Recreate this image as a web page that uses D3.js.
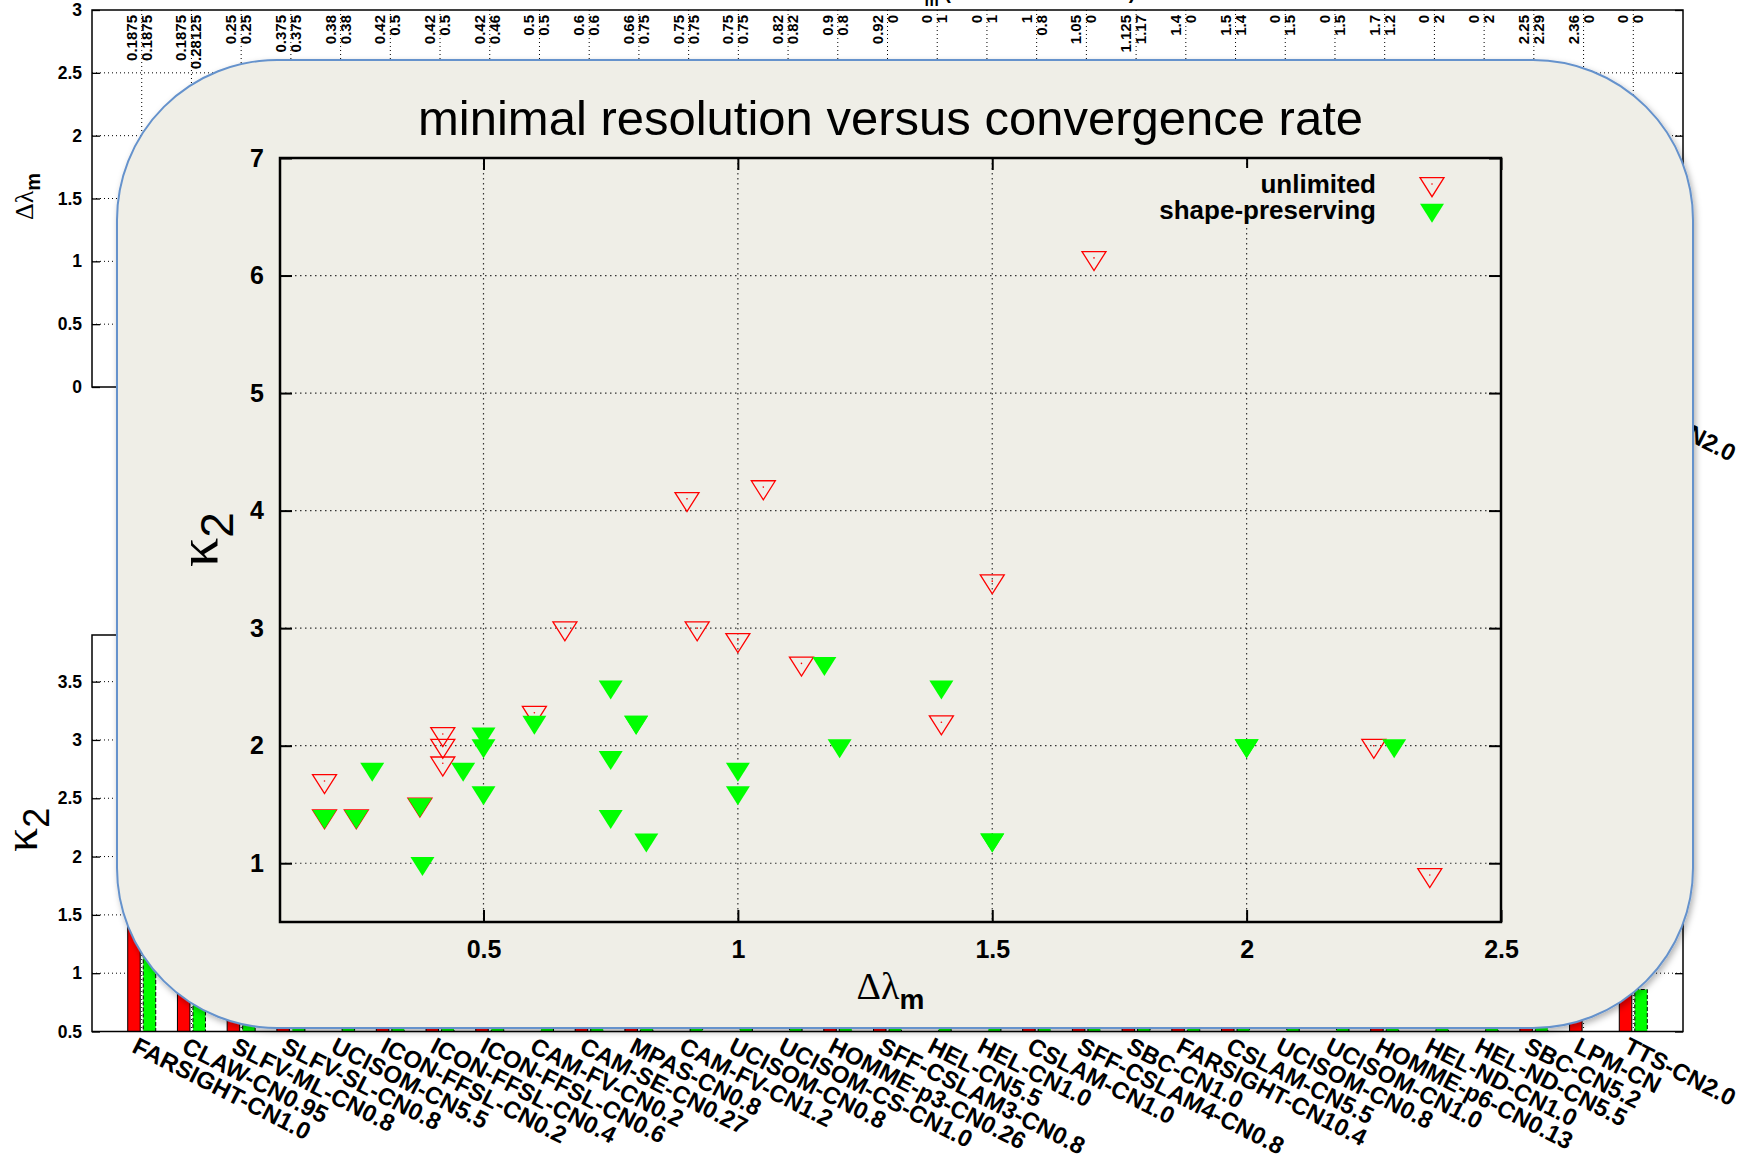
<!DOCTYPE html>
<html>
<head>
<meta charset="utf-8">
<script src="https://cdn.jsdelivr.net/npm/d3@7"></script>
<style>
  body { margin: 0; background: #ffffff; }
  svg { display: block; }
</style>
</head>
<body>
<svg id="chart" width="1754" height="1163"></svg>
<script>
// ---------------- data ----------------
const schemes = [
  "FARSIGHT-CN1.0", "CLAW-CN0.95", "SLFV-ML-CN0.8", "SLFV-SL-CN0.8", "UCISOM-CN5.5",
  "ICON-FFSL-CN0.2", "ICON-FFSL-CN0.4", "ICON-FFSL-CN0.6", "CAM-FV-CN0.2", "CAM-SE-CN0.27",
  "MPAS-CN0.8", "CAM-FV-CN1.2", "UCISOM-CN0.8", "UCISOM-CS-CN1.0", "HOMME-p3-CN0.26",
  "SFF-CSLAM3-CN0.8", "HEL-CN5.5", "HEL-CN1.0", "CSLAM-CN1.0", "SFF-CSLAM4-CN0.8",
  "SBC-CN1.0", "FARSIGHT-CN10.4", "CSLAM-CN5.5", "UCISOM-CN0.8", "UCISOM-CN1.0",
  "HOMME-p6-CN0.13", "HEL-ND-CN1.0", "HEL-ND-CN5.5", "SBC-CN5.2", "LPM-CN", "TTS-CN2.0"
];

// minimal resolution (Δλm), 0 = not available
const dlUnlimited = [
  0.1875, 0.1875, 0.25, 0.375, 0.38, 0.42, 0.42, 0.42, 0.5, 0.6,
  0.66, 0.75, 0.75, 0.82, 0.9, 0.92, 0, 0, 1, 1.05,
  1.125, 1.4, 1.5, 0, 0, 1.7, 0, 0, 2.25, 2.36, 0
];
const dlShapePreserving = [
  0.1875, 0.28125, 0.25, 0.375, 0.38, 0.5, 0.5, 0.46, 0.5, 0.6,
  0.75, 0.75, 0.75, 0.82, 0.8, 0, 1, 1, 0.8, 0,
  1.17, 0, 1.4, 1.5, 1.5, 1.2, 2, 2, 2.29, 0, 0
];

// convergence rate (κ2), null = not available
const k2Unlimited = [
  1.4, 1.7, 1.4, 1.5, null, 2.1, 2.0, 1.85, null, 2.28,
  3.0, null, null, null, 4.1, 3.0, null, null, 2.9, 4.2,
  2.7, 2.2, 3.4, null, null, 6.15, null, null, 2.0, 0.9, 1.1
];
const k2ShapePreserving = [
  1.4, 1.8, 1.4, 1.5, 1.0, 2.1, 2.0, 1.8, 1.6, 2.2,
  1.9, 2.5, 1.4, 1.2, 2.2, 2.0, 1.8, 1.6, 2.2, 2.2,
  2.7, 1.8, 2.5, 1.2, 1.2, 2.0, 2.0, 2.0, 2.0, null, 0.86
];

const dlTicksMain = [0.5, 1, 1.5, 2, 2.5];
const k2TicksMain = [1, 2, 3, 4, 5, 6, 7];
const dlTicksBar = [0, 0.5, 1, 1.5, 2, 2.5, 3];
const k2TicksBar = [0.5, 1, 1.5, 2, 2.5, 3, 3.5];

const seriesNames = ["unlimited", "shape-preserving"];

// ---------------- setup ----------------
const SANS = '"Liberation Sans", Arial, Helvetica, sans-serif';
const SERIF = '"Liberation Serif", "DejaVu Serif", serif';
const RED = "#ff0000", GREEN = "#00ff00";

const svg = d3.select("#chart");
const defs = svg.append("defs");

const shadow = defs.append("filter").attr("id", "panelShadow")
  .attr("x", "-3%").attr("y", "-3%").attr("width", "106%").attr("height", "106%");
shadow.append("feDropShadow").attr("dx", 2).attr("dy", 3).attr("stdDeviation", 3)
  .attr("flood-color", "#000").attr("flood-opacity", 0.3);

// ---------------- background histograms ----------------
const barLeft = 92, barRight = 1683;
const xCat = d3.scaleLinear().domain([-1, schemes.length]).range([barLeft, barRight]);

function barPanel(cfg) {
  const { y, ticks, unl, sp, top, bottom, id } = cfg;
  const g = svg.append("g");
  defs.append("clipPath").attr("id", id).append("rect")
    .attr("x", barLeft).attr("y", top).attr("width", barRight - barLeft).attr("height", bottom - top);

  // dotted grid
  g.append("g").selectAll("line")
    .data(ticks.filter(t => y(t) > top + 1 && y(t) < bottom - 1))
    .join("line")
    .attr("x1", barLeft).attr("x2", barRight)
    .attr("y1", d => y(d)).attr("y2", d => y(d))
    .attr("stroke", "#000").attr("stroke-width", 1).attr("stroke-dasharray", "1,3");
  g.append("g").selectAll("line")
    .data(d3.range(schemes.length))
    .join("line")
    .attr("x1", d => xCat(d)).attr("x2", d => xCat(d))
    .attr("y1", top).attr("y2", bottom)
    .attr("stroke", "#000").attr("stroke-width", 1).attr("stroke-dasharray", "1,3");

  // bars
  const bw = 12.5;
  const bars = g.append("g").attr("clip-path", `url(#${id})`);
  const base = y.domain()[0];
  bars.selectAll("rect.u")
    .data(unl.map((v, i) => ({ i, v })).filter(d => d.v != null && d.v > base))
    .join("rect").attr("class", "u")
    .attr("x", d => xCat(d.i) - 14).attr("width", bw)
    .attr("y", d => y(d.v)).attr("height", d => y(base) - y(d.v))
    .attr("fill", RED).attr("stroke", "#000").attr("stroke-width", 1);
  bars.selectAll("rect.s")
    .data(sp.map((v, i) => ({ i, v })).filter(d => d.v != null && d.v > base))
    .join("rect").attr("class", "s")
    .attr("x", d => xCat(d.i) + 1.5).attr("width", bw)
    .attr("y", d => y(d.v)).attr("height", d => y(base) - y(d.v))
    .attr("fill", GREEN).attr("stroke", "#000").attr("stroke-width", 1)
    .attr("stroke-dasharray", "4,2");

  // frame
  g.append("rect").attr("x", barLeft).attr("y", top)
    .attr("width", barRight - barLeft).attr("height", bottom - top)
    .attr("fill", "none").attr("stroke", "#000").attr("stroke-width", 1.5);

  // y axis (left, labelled) and mirrored ticks on the right
  const gl = g.append("g").attr("transform", `translate(${barLeft},0)`)
    .call(d3.axisLeft(y).tickValues(ticks).tickSizeInner(-8).tickSizeOuter(0)
      .tickPadding(10).tickFormat(d => String(d)));
  gl.select(".domain").remove();
  gl.attr("font-family", SANS).attr("font-size", 17.5);
  gl.selectAll("text").attr("font-weight", "bold").attr("fill", "#000");
  gl.selectAll("line").attr("stroke", "#000").attr("stroke-width", 1.3);

  const gr = g.append("g").attr("transform", `translate(${barRight},0)`)
    .call(d3.axisRight(y).tickValues(ticks).tickSizeInner(-8).tickSizeOuter(0).tickFormat(""));
  gr.select(".domain").remove();
  gr.selectAll("line").attr("stroke", "#000").attr("stroke-width", 1.3);

  // scheme names under the axis
  g.append("g").selectAll("text").data(schemes).join("text")
    .attr("transform", (d, i) => `translate(${xCat(i) - 11},${bottom + 20}) rotate(27)`)
    .attr("font-family", SANS).attr("font-size", 24).attr("font-weight", "bold")
    .attr("fill", "#000")
    .text(d => d);
  return g;
}

// upper histogram: minimal resolution
const yDl = d3.scaleLinear().domain([0, 3]).range([387, 10]);
const gTop = barPanel({ y: yDl, ticks: dlTicksBar, unl: dlUnlimited, sp: dlShapePreserving,
  top: 10, bottom: 387, id: "clipTop" });

// value pairs printed along the top of the upper histogram
gTop.append("g").selectAll("text").data(dlUnlimited).join("text")
  .attr("transform", (d, i) => `translate(${xCat(i) - 5},15) rotate(-90)`)
  .attr("text-anchor", "end").attr("font-family", SANS).attr("font-size", 15)
  .attr("font-weight", "bold").attr("fill", "#000").text(d => String(d));
gTop.append("g").selectAll("text").data(dlShapePreserving).join("text")
  .attr("transform", (d, i) => `translate(${xCat(i) + 10},15) rotate(-90)`)
  .attr("text-anchor", "end").attr("font-family", SANS).attr("font-size", 15)
  .attr("font-weight", "bold").attr("fill", "#000").text(d => String(d));

// title of the upper histogram (sits above the frame)
const topTitle = svg.append("text").attr("x", 902).attr("y", -1)
  .attr("font-family", SANS).attr("font-size", 20).attr("font-weight", "bold").attr("fill", "#000");
topTitle.append("tspan").attr("font-family", SERIF).attr("font-weight", "normal").text("Δλ");
topTitle.append("tspan").attr("dy", 7).attr("font-size", 16).text("m");
topTitle.append("tspan").attr("dy", -7).text("  (minimal resolution)");

// y label of the upper histogram
const lblTop = svg.append("text").attr("transform", "translate(33,220) rotate(-90)")
  .attr("font-family", SANS).attr("fill", "#000");
lblTop.append("tspan").attr("font-family", SERIF).attr("font-size", 26).text("Δλ");
lblTop.append("tspan").attr("dy", 7).attr("font-size", 20).attr("font-weight", "bold").text("m");

// lower histogram: convergence rate
const yK2 = d3.scaleLinear().domain([0.5, 3.9]).range([1031.5, 635]);
barPanel({ y: yK2, ticks: k2TicksBar, unl: k2Unlimited, sp: k2ShapePreserving,
  top: 635, bottom: 1031.5, id: "clipBottom" });

const lblBot = svg.append("text").attr("transform", "translate(37,852) rotate(-90)")
  .attr("fill", "#000");
lblBot.append("tspan").attr("font-family", SERIF).attr("font-size", 48).text("κ");
lblBot.append("tspan").attr("dy", 12).attr("font-family", SANS).attr("font-size", 36).text("2");

// ---------------- inset panel ----------------
svg.append("rect")
  .attr("x", 117).attr("y", 60).attr("width", 1576).attr("height", 968)
  .attr("rx", 160).attr("ry", 160)
  .attr("fill", "#efeee7").attr("stroke", "#6592cc").attr("stroke-width", 2)
  .attr("filter", "url(#panelShadow)");

const pL = 280, pR = 1501, pT = 158, pB = 922;
const xM = d3.scaleLinear().domain([0.1, 2.5]).range([pL, pR]);
const yM = d3.scaleLinear().domain([0.5, 7]).range([pB, pT]);

const gm = svg.append("g");

gm.append("text").attr("x", (pL + pR) / 2).attr("y", 135)
  .attr("text-anchor", "middle").attr("font-family", SANS).attr("font-size", 49)
  .attr("fill", "#000").text("minimal resolution versus convergence rate");

// grid
gm.append("g").selectAll("line")
  .data(dlTicksMain.filter(t => xM(t) < pR - 1))
  .join("line")
  .attr("x1", d => xM(d)).attr("x2", d => xM(d)).attr("y1", pT).attr("y2", pB)
  .attr("stroke", "#333").attr("stroke-width", 1.2).attr("stroke-dasharray", "1.5,3.5");
gm.append("g").selectAll("line")
  .data(k2TicksMain.filter(t => yM(t) > pT + 1))
  .join("line")
  .attr("x1", pL).attr("x2", pR).attr("y1", d => yM(d)).attr("y2", d => yM(d))
  .attr("stroke", "#333").attr("stroke-width", 1.2).attr("stroke-dasharray", "1.5,3.5");

// axes: labelled bottom/left, mirrored ticks top/right
function styleAxis(sel, withText) {
  sel.select(".domain").remove();
  sel.selectAll("line").attr("stroke", "#000").attr("stroke-width", 2);
  sel.attr("font-family", SANS).attr("font-size", 25);
  if (withText) sel.selectAll("text").attr("font-weight", "bold").attr("fill", "#000");
}
styleAxis(gm.append("g").attr("transform", `translate(0,${pB})`)
  .call(d3.axisBottom(xM).tickValues(dlTicksMain).tickSizeInner(-12).tickSizeOuter(0)
    .tickPadding(18).tickFormat(d => String(d))), true);
styleAxis(gm.append("g").attr("transform", `translate(0,${pT})`)
  .call(d3.axisTop(xM).tickValues(dlTicksMain).tickSizeInner(-12).tickSizeOuter(0).tickFormat("")), false);
styleAxis(gm.append("g").attr("transform", `translate(${pL},0)`)
  .call(d3.axisLeft(yM).tickValues(k2TicksMain).tickSizeInner(-12).tickSizeOuter(0)
    .tickPadding(16).tickFormat(d => String(d))), true);
styleAxis(gm.append("g").attr("transform", `translate(${pR},0)`)
  .call(d3.axisRight(yM).tickValues(k2TicksMain).tickSizeInner(-12).tickSizeOuter(0).tickFormat("")), false);

// axis titles
const xl = gm.append("text").attr("x", (pL + pR) / 2).attr("y", 999)
  .attr("text-anchor", "middle").attr("fill", "#000");
xl.append("tspan").attr("font-family", SERIF).attr("font-size", 38).text("Δλ");
xl.append("tspan").attr("dy", 10).attr("font-family", SANS).attr("font-size", 28)
  .attr("font-weight", "bold").text("m");

const yl = gm.append("text").attr("transform", "translate(217,567) rotate(-90)").attr("fill", "#000");
yl.append("tspan").attr("font-family", SERIF).attr("font-size", 58).text("κ");
yl.append("tspan").attr("dy", 16).attr("font-family", SANS).attr("font-size", 46).text("2");

// frame
gm.append("rect").attr("x", pL).attr("y", pT).attr("width", pR - pL).attr("height", pB - pT)
  .attr("fill", "none").attr("stroke", "#000").attr("stroke-width", 2.5);

// down-pointing triangle, centred on its centroid
const triDown = {
  draw(ctx, size) {
    const w = 12 * size, h = 19 * size;
    ctx.moveTo(-w, -h / 3);
    ctx.lineTo(w, -h / 3);
    ctx.lineTo(0, 2 * h / 3);
    ctx.closePath();
  }
};
const tri = d3.symbol().type(triDown).size(1);

const ptsU = schemes.map((s, i) => ({ s, dl: dlUnlimited[i], k2: k2Unlimited[i] }))
  .filter(d => d.dl > 0 && d.k2 != null);
const ptsS = schemes.map((s, i) => ({ s, dl: dlShapePreserving[i], k2: k2ShapePreserving[i] }))
  .filter(d => d.dl > 0 && d.k2 != null);

function openMarker(sel) {
  sel.append("path").attr("d", tri).attr("fill", "none").attr("stroke", RED).attr("stroke-width", 1.3);
  sel.append("circle").attr("r", 0.8).attr("fill", RED);
}
function filledMarker(sel) {
  sel.append("path").attr("d", tri).attr("fill", GREEN);
}

gm.append("g").selectAll("g").data(ptsU).join("g")
  .attr("transform", d => `translate(${xM(d.dl)},${yM(d.k2)})`)
  .call(openMarker);
gm.append("g").selectAll("g").data(ptsS).join("g")
  .attr("transform", d => `translate(${xM(d.dl)},${yM(d.k2)})`)
  .call(filledMarker);

// legend (opaque)
const lg = gm.append("g");
lg.append("rect").attr("x", 1150).attr("y", 168).attr("width", 310).attr("height", 57)
  .attr("fill", "#efeee7");
const legendRows = [
  { name: seriesNames[0], y: 192.5, draw: openMarker, my: 184 },
  { name: seriesNames[1], y: 218.5, draw: filledMarker, my: 210 }
];
legendRows.forEach(r => {
  lg.append("text").attr("x", 1376).attr("y", r.y).attr("text-anchor", "end")
    .attr("font-family", SANS).attr("font-size", 26).attr("font-weight", "bold")
    .attr("fill", "#000").text(r.name);
  lg.append("g").attr("transform", `translate(1432,${r.my})`).call(r.draw);
});
</script>
</body>
</html>
